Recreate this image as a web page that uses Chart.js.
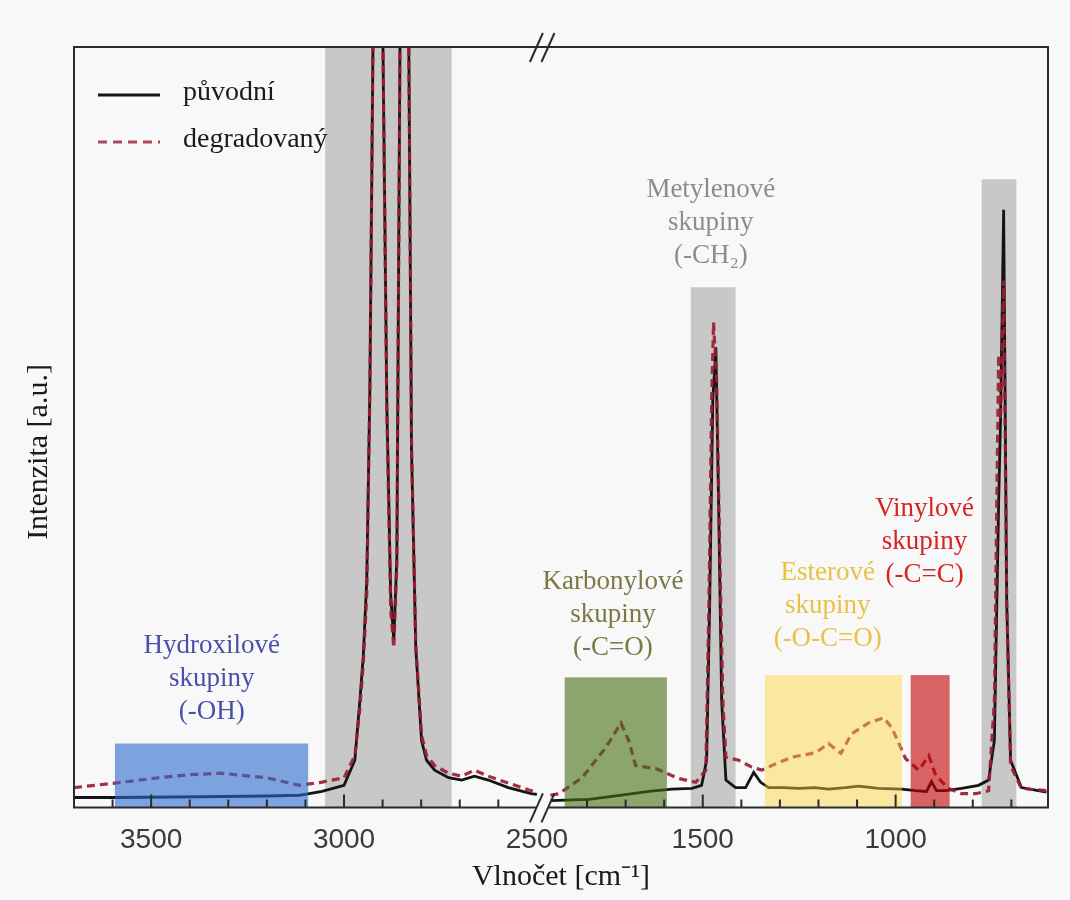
<!DOCTYPE html>
<html lang="cs">
<head>
<meta charset="utf-8">
<title>Ramanovo spektrum</title>
<script src="https://cdn.jsdelivr.net/npm/chart.js@4.4.1/dist/chart.umd.min.js"></script>
<style>
  html, body { margin: 0; padding: 0; background: #f8f8f8; }
  #wrap { width: 1070px; height: 900px; }
</style>
</head>
<body>
<div id="wrap"><canvas id="spektrum"></canvas></div>
<script>
// Vlnočty [cm-1] a intenzity [a.u.], 0-100 = výška rámu grafu
const wnPuvodni = [3700, 3594, 3366, 3200, 3116, 3101, 3057, 3000, 2972, 2959, 2950, 2941, 2933, 2925, 2912, 2899, 2889, 2879, 2871, 2863, 2855, 2845, 2832, 2825, 2814, 2799, 2786, 2765, 2729, 2695, 2662, 2626, 2574, 2515, 2500,
  1895, 1795, 1710, 1640, 1580, 1528, 1503, 1490, 1482, 1474, 1466, 1459, 1451, 1440, 1415, 1389, 1368, 1350, 1329, 1290, 1251, 1210, 1174, 1130, 1096, 1044, 984, 948, 920, 907, 894, 870, 829, 785, 759, 744, 733, 728, 720, 712, 702, 674, 609];
const intPuvodni = [1.3, 1.3, 1.4, 1.5, 1.6, 1.7, 2.1, 2.9, 6.2, 14, 20, 30, 55, 100, 160, 100, 53, 28, 22, 33, 100, 170, 100, 47, 21, 8.8, 6.2, 4.9, 3.9, 3.6, 4.1, 3.6, 2.6, 1.8, 1.7,
  0.9, 1.05, 1.6, 2.1, 2.4, 2.5, 2.9, 6.2, 27, 53.5, 60.5, 40, 14, 3.6, 2.6, 2.6, 4.6, 3.3, 2.6, 2.6, 2.5, 2.6, 2.4, 2.6, 2.8, 2.5, 2.4, 2.2, 2.1, 3.4, 2.2, 2.2, 2.5, 2.9, 3.6, 8.8, 40, 51, 78.6, 27, 6.2, 2.6, 2.0];

const wnDegrad = [3700, 3594, 3480, 3400, 3320, 3200, 3116, 3060, 3000, 2972, 2959, 2950, 2941, 2933, 2925, 2912, 2899, 2889, 2879, 2871, 2863, 2855, 2845, 2832, 2825, 2814, 2799, 2786, 2765, 2729, 2695, 2662, 2626, 2574, 2515, 2500,
  1895, 1873, 1813, 1751, 1712, 1692, 1674, 1622, 1562, 1518, 1492, 1484, 1477, 1472, 1464, 1456, 1448, 1440, 1407, 1373, 1347, 1321, 1269, 1207, 1174, 1142, 1114, 1070, 1031, 1010, 974, 940, 914, 896, 863, 829, 793, 759, 744, 733, 728, 720, 712, 702, 674, 609];
const intDegrad = [2.6, 3.2, 3.9, 4.3, 4.5, 3.9, 2.9, 3.3, 3.9, 6.8, 13, 19, 28, 55, 100, 160, 100, 52, 26, 21, 32, 100, 170, 100, 48, 21.3, 9.5, 6.8, 5.5, 4.5, 4.1, 4.9, 4.1, 3.2, 2.2, 2.1,
  1.6, 1.8, 3.9, 7.9, 11.1, 8.8, 5.5, 5.1, 3.8, 3.3, 4.9, 27, 53.5, 63.8, 56, 33.8, 14, 6.6, 6.2, 5.3, 4.9, 5.5, 6.6, 7.2, 8.4, 7.1, 9.7, 11.1, 11.8, 10.5, 6.4, 4.9, 6.8, 4.2, 2.5, 1.8, 1.8, 2.2, 14, 59.5, 51, 69.3, 27, 5.5, 2.5, 2.2];

// Popisky a značky osy x
const tickLabels = [3500, 3000, 2500, 1500, 1000];
const minorTicks = [3600, 3400, 3300, 3200, 3100, 2900, 2800, 2700, 2600, 1800, 1700, 1600, 1400, 1300, 1200, 1100, 900, 800, 700];
const majorTicks = [3500, 3000, 1500, 1000];

// Přerušená osa: levý úsek 3700-2500, pravý 1900-605
const leftRange = [3700, 2500];
const rightRange = [1900, 605];
const gap = 30;

// Zvýrazněné oblasti [od, do, horní hranice]
const graySpans = [[3049, 2721, 100], [1531, 1415, 68.4], [777, 687, 82.6]];
const groupSpans = [[3594, 3093, 8.4], [1858, 1593, 17.1], [1339, 984, 17.4], [961, 860, 17.4]];

// Názvy skupin
const groupNames = [
  ['Hydroxilové', 'skupiny', '(-OH)'],
  ['Karbonylové', 'skupiny', '(-C=O)'],
  ['Metylenové', 'skupiny', '(-CH\u2082)'],
  ['Esterové', 'skupiny', '(-O-C=O)'],
  ['Vinylové', 'skupiny', '(-C=C)']
];
const groupLabelAt = [[3343, 21.3], [1733, 29.6], [1479, 81.2], [1176, 30.9], [925, 39.3]];

const seriesNames = ['původní', 'degradovaný'];

function toU(wn) {
  if (wn >= leftRange[1]) return leftRange[0] - wn;
  return (leftRange[0] - leftRange[1]) + gap + (rightRange[0] - wn);
}
const uMax = toU(rightRange[1]);

function buildSeries(wn, vals) {
  var pts = [];
  for (var i = 0; i < wn.length; i++) {
    if (i > 0 && wn[i - 1] >= leftRange[1] && wn[i] < leftRange[1]) {
      pts.push({x: toU(leftRange[1]) + gap / 2, y: null});
    }
    pts.push({x: toU(wn[i]), y: vals[i]});
  }
  return pts;
}

const serif = '"Liberation Serif", "Times New Roman", serif';

const spectrumDecor = {
  id: 'spectrumDecor',
  beforeDatasetsDraw(chart) {
    const {ctx, chartArea, scales} = chart;
    ctx.save();
    ctx.fillStyle = '#c8c8c8';
    graySpans.forEach(s => {
      const x1 = scales.x.getPixelForValue(toU(s[0]));
      const x2 = scales.x.getPixelForValue(toU(s[1]));
      const yt = scales.y.getPixelForValue(s[2]);
      ctx.fillRect(x1, yt, x2 - x1, chartArea.bottom - yt);
    });
    ctx.restore();
  },
  afterDatasetsDraw(chart, args, opts) {
    const {ctx, chartArea, scales} = chart;
    const xs = scales.x, ys = scales.y;
    const {left, right, top, bottom} = chartArea;

    ctx.save();
    // barevné oblasti funkčních skupin
    groupSpans.forEach((s, i) => {
      const x1 = xs.getPixelForValue(toU(s[0]));
      const x2 = xs.getPixelForValue(toU(s[1]));
      const yt = ys.getPixelForValue(s[2]);
      ctx.fillStyle = opts.spanColors[i];
      ctx.fillRect(x1, yt, x2 - x1, bottom - yt);
    });

    // rám
    const xBreakL = xs.getPixelForValue(toU(leftRange[1]));
    const xBreakR = xs.getPixelForValue(toU(rightRange[0]));
    ctx.strokeStyle = '#2b2b2b';
    ctx.lineWidth = 2;
    ctx.beginPath();
    ctx.moveTo(xBreakL, bottom);
    ctx.lineTo(left, bottom);
    ctx.lineTo(left, top);
    ctx.lineTo(right, top);
    ctx.lineTo(right, bottom);
    ctx.lineTo(xBreakR, bottom);
    ctx.stroke();

    // značky uvnitř rámu
    ctx.beginPath();
    majorTicks.forEach(w => {
      const x = xs.getPixelForValue(toU(w));
      ctx.moveTo(x, bottom);
      ctx.lineTo(x, bottom - 13);
    });
    minorTicks.forEach(w => {
      const x = xs.getPixelForValue(toU(w));
      ctx.moveTo(x, bottom);
      ctx.lineTo(x, bottom - 8);
    });
    ctx.stroke();

    // značky přerušení //
    [xBreakL, xBreakR].forEach(x => {
      [top, bottom].forEach(y => {
        ctx.beginPath();
        ctx.moveTo(x - 7, y + 15);
        ctx.lineTo(x + 6, y - 14);
        ctx.stroke();
      });
    });

    // legenda
    ctx.lineWidth = 3;
    ctx.strokeStyle = '#151515';
    ctx.beginPath();
    ctx.moveTo(left + 24, top + 48);
    ctx.lineTo(left + 86, top + 48);
    ctx.stroke();
    ctx.strokeStyle = '#b04858';
    ctx.setLineDash([9, 6]);
    ctx.beginPath();
    ctx.moveTo(left + 24, top + 95);
    ctx.lineTo(left + 86, top + 95);
    ctx.stroke();
    ctx.setLineDash([]);
    ctx.fillStyle = '#1a1a1a';
    ctx.font = '28px ' + serif;
    ctx.textAlign = 'left';
    ctx.textBaseline = 'middle';
    ctx.fillText(seriesNames[0], left + 109, top + 46);
    ctx.fillText(seriesNames[1], left + 109, top + 93);

    // popisky skupin
    ctx.font = '27px ' + serif;
    ctx.textAlign = 'center';
    groupNames.forEach((lines, i) => {
      const x = xs.getPixelForValue(toU(groupLabelAt[i][0]));
      const y = ys.getPixelForValue(groupLabelAt[i][1]);
      ctx.fillStyle = opts.textColors[i];
      lines.forEach((t, k) => ctx.fillText(t, x, y + k * 33));
    });

    // název osy y
    ctx.fillStyle = '#1a1a1a';
    ctx.font = '30px ' + serif;
    ctx.translate(39, 452);
    ctx.rotate(-Math.PI / 2);
    ctx.fillText('Intenzita [a.u.]', 0, 0);
    ctx.restore();
  }
};

new Chart(document.getElementById('spektrum'), {
  type: 'line',
  data: {
    datasets: [{
      label: seriesNames[0],
      data: buildSeries(wnPuvodni, intPuvodni),
      borderColor: '#141414',
      borderWidth: 2.8,
      order: 2
    }, {
      label: seriesNames[1],
      data: buildSeries(wnDegrad, intDegrad),
      borderColor: 'rgba(155, 30, 50, 0.92)',
      borderWidth: 3.2,
      borderDash: [8, 5],
      order: 1
    }]
  },
  options: {
    responsive: true,
    maintainAspectRatio: false,
    animation: false,
    layout: { padding: { left: 74, right: 22, top: 47, bottom: 3 } },
    elements: {
      point: { radius: 0 },
      line: { tension: 0, fill: false }
    },
    datasets: { line: { clip: 0, spanGaps: false } },
    plugins: {
      legend: { display: false },
      tooltip: { enabled: false },
      spectrumDecor: {
        spanColors: ['rgba(43, 107, 205, 0.6)', 'rgba(68, 110, 18, 0.6)', 'rgba(253, 213, 53, 0.45)', 'rgba(193, 0, 2, 0.6)'],
        textColors: ['#4a50a8', '#7b7a45', '#8c8c8c', '#e8c245', '#d42424']
      }
    },
    scales: {
      x: {
        type: 'linear',
        min: 0,
        max: uMax,
        grid: { display: false },
        border: { display: false },
        afterBuildTicks: scale => {
          scale.ticks = tickLabels.map(w => ({ value: toU(w) }));
        },
        ticks: {
          autoSkip: false,
          maxRotation: 0,
          padding: 8,
          color: '#3a3a3a',
          font: { family: '"Liberation Sans", Arial, sans-serif', size: 28 },
          callback: (v, i) => String(tickLabels[i])
        },
        title: {
          display: true,
          text: 'Vlnočet [cm\u207B\u00B9]',
          color: '#1a1a1a',
          font: { family: serif, size: 30 },
          padding: { top: -6, bottom: 2 }
        }
      },
      y: {
        display: false,
        min: 0,
        max: 100
      }
    }
  },
  plugins: [spectrumDecor]
});
</script>
</body>
</html>
